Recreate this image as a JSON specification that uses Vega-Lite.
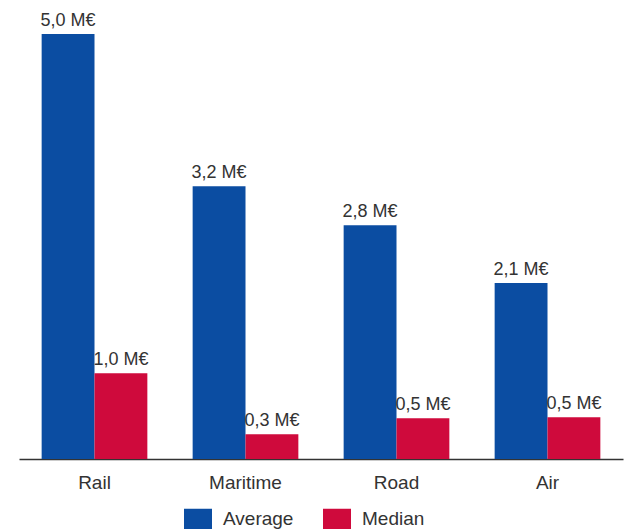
{
  "$schema": "https://vega.github.io/schema/vega-lite/v6.json",
  "autosize": "none",
  "width": 604,
  "height": 425,
  "padding": {"left": 19, "top": 34, "right": 4, "bottom": 70},
  "background": "white",
  "config": {
    "view": {"stroke": null},
    "font": "Liberation Sans",
    "text": {"font": "Liberation Sans"}
  },
  "data": {
    "values": [
      {"mode": "Rail", "series": "Average", "value": 5.0, "label": "5,0 M€"},
      {"mode": "Rail", "series": "Median", "value": 1.01, "label": "1,0 M€"},
      {"mode": "Maritime", "series": "Average", "value": 3.21, "label": "3,2 M€"},
      {"mode": "Maritime", "series": "Median", "value": 0.29, "label": "0,3 M€"},
      {"mode": "Road", "series": "Average", "value": 2.75, "label": "2,8 M€"},
      {"mode": "Road", "series": "Median", "value": 0.48, "label": "0,5 M€"},
      {"mode": "Air", "series": "Average", "value": 2.07, "label": "2,1 M€"},
      {"mode": "Air", "series": "Median", "value": 0.49, "label": "0,5 M€"}
    ]
  },
  "encoding": {
    "x": {
      "field": "mode",
      "type": "nominal",
      "sort": ["Rail", "Maritime", "Road", "Air"],
      "scale": {"paddingInner": 0.3, "paddingOuter": 0.15},
      "axis": {
        "title": null,
        "labelAngle": 0,
        "ticks": false,
        "tickSize": 0,
        "labelPadding": 14,
        "labelFontSize": 19,
        "labelFont": "Liberation Sans",
        "labelColor": "#333333",
        "domainColor": "#333333",
        "domainWidth": 1.5
      }
    },
    "xOffset": {
      "field": "series",
      "type": "nominal",
      "sort": ["Average", "Median"],
      "scale": {"paddingInner": 0, "paddingOuter": 0}
    },
    "y": {
      "field": "value",
      "type": "quantitative",
      "scale": {"domain": [0, 5], "nice": false, "zero": true},
      "axis": null
    }
  },
  "layer": [
    {
      "mark": {"type": "bar"},
      "encoding": {
        "color": {
          "field": "series",
          "type": "nominal",
          "sort": ["Average", "Median"],
          "scale": {"domain": ["Average", "Median"], "range": ["#0b4da2", "#cf0a3c"]},
          "legend": {
            "title": null,
            "orient": "none",
            "direction": "horizontal",
            "legendX": 165,
            "legendY": 471,
            "padding": 0,
            "symbolType": "M-1,-0.75H1V0.75H-1Z",
            "symbolSize": 784,
            "symbolStrokeWidth": 0,
            "symbolOpacity": 1,
            "labelFontSize": 19,
            "labelFont": "Liberation Sans",
            "labelColor": "#333333",
            "labelOffset": 11,
            "columnPadding": 29
          }
        }
      }
    },
    {
      "mark": {"type": "text", "baseline": "alphabetic", "dy": -8, "fontSize": 18, "color": "#333333", "font": "Liberation Sans"},
      "encoding": {
        "text": {"field": "label"}
      }
    }
  ]
}
